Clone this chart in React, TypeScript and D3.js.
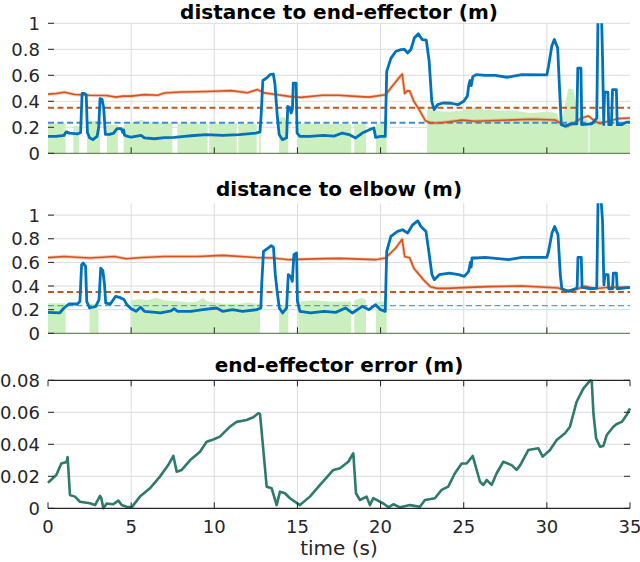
import React from "react";
import * as d3 from "d3";

// ---------- data ----------
const xTicks = [0, 5, 10, 15, 20, 25, 30, 35];
const distTicks = [0, 0.2, 0.4, 0.6, 0.8, 1];
const distTickLabels = ["0", "0.2", "0.4", "0.6", "0.8", "1"];
const errTicks = [0, 0.02, 0.04, 0.06, 0.08];
const errTickLabels = ["0", "0.02", "0.04", "0.06", "0.08"];
const titles = ["distance to end-effector (m)", "distance to elbow (m)", "end-effector error (m)"];
const xLabel = "time (s)";

const humanThreshold = 0.35;
const robotThreshold = 0.235;

// panel 1: distance to end-effector
const eeBlue: [number, number][] = [
  [0, 0.13], [0.5, 0.13], [0.96, 0.138], [1.1, 0.165], [1.3, 0.155], [1.76, 0.15], [1.96, 0.158],
  [2.05, 0.46], [2.2, 0.46], [2.3, 0.45], [2.37, 0.16], [2.5, 0.12], [2.7, 0.105], [2.95, 0.13],
  [3.05, 0.2], [3.13, 0.42], [3.25, 0.415], [3.35, 0.35], [3.45, 0.145], [3.7, 0.145], [3.95, 0.155],
  [4.15, 0.19], [4.4, 0.19], [4.5, 0.16], [4.55, 0.18], [4.6, 0.14], [4.8, 0.13], [5.0, 0.125],
  [5.6, 0.138], [5.8, 0.118], [6.4, 0.112], [7.0, 0.12], [7.6, 0.123], [8.2, 0.13], [8.6, 0.135],
  [9.5, 0.144], [10.5, 0.138], [11.5, 0.144], [12.5, 0.155], [12.75, 0.165], [12.82, 0.3],
  [12.92, 0.56], [13.15, 0.58], [13.35, 0.605], [13.55, 0.61], [13.65, 0.53], [13.78, 0.3],
  [13.9, 0.145], [14.1, 0.105], [14.35, 0.12], [14.42, 0.36], [14.55, 0.35], [14.62, 0.31],
  [14.7, 0.34], [14.75, 0.54], [14.92, 0.54], [14.98, 0.155], [15.15, 0.13], [15.75, 0.13],
  [16.55, 0.138], [17.2, 0.132], [17.7, 0.156], [18.1, 0.144], [18.5, 0.118], [18.9, 0.156],
  [19.3, 0.18], [19.6, 0.195], [19.7, 0.123], [20.0, 0.13], [20.28, 0.13], [20.37, 0.63],
  [20.62, 0.73], [20.92, 0.785], [21.23, 0.797], [21.43, 0.8], [21.63, 0.772], [21.83, 0.8],
  [22.03, 0.887], [22.27, 0.92], [22.5, 0.875], [22.75, 0.87], [22.92, 0.71], [23.08, 0.4],
  [23.22, 0.336], [23.43, 0.374], [23.75, 0.387], [24.25, 0.385], [24.65, 0.374], [25.0, 0.4],
  [25.22, 0.44], [25.3, 0.52], [25.38, 0.56], [25.45, 0.52], [25.55, 0.59], [25.75, 0.605],
  [26.3, 0.6], [26.9, 0.6], [27.6, 0.585], [28.5, 0.605], [30.0, 0.603], [30.1, 0.67],
  [30.3, 0.825], [30.45, 0.875], [30.65, 0.81], [30.77, 0.48], [30.87, 0.22], [31.1, 0.208],
  [31.4, 0.226], [31.8, 0.226], [31.86, 0.655], [32.05, 0.655], [32.1, 0.22], [32.7, 0.226],
  [33.0, 0.27], [33.08, 1.1], [33.28, 1.1], [33.35, 0.73], [33.42, 0.22], [33.47, 0.47],
  [33.67, 0.47], [33.72, 0.22], [33.88, 0.22], [33.95, 0.49], [34.18, 0.49], [34.23, 0.22],
  [34.5, 0.22], [34.8, 0.24], [35, 0.24],
];
const eeOrange: [number, number][] = [
  [0, 0.455], [0.5, 0.46], [1.0, 0.47], [1.6, 0.452], [2.5, 0.446], [3.5, 0.445], [4.1, 0.432],
  [4.5, 0.44], [5.0, 0.44], [5.8, 0.451], [6.6, 0.446], [7.0, 0.464], [8.0, 0.472], [9.0, 0.474],
  [10.0, 0.477], [11.0, 0.482], [12.0, 0.466], [12.6, 0.49], [13.0, 0.465], [13.7, 0.452],
  [14.5, 0.438], [15.2, 0.43], [16.5, 0.446], [17.5, 0.446], [18.5, 0.438], [19.3, 0.432],
  [20.3, 0.451], [20.7, 0.515], [21.1, 0.58], [21.3, 0.61], [21.45, 0.46], [21.6, 0.48],
  [21.75, 0.48], [22.0, 0.4], [22.3, 0.34], [22.7, 0.25], [23.0, 0.233], [23.7, 0.235],
  [24.9, 0.255], [25.7, 0.246], [26.5, 0.25], [29.1, 0.262], [30.5, 0.256], [30.9, 0.226],
  [31.2, 0.205], [31.6, 0.23], [32.1, 0.272], [32.5, 0.287], [32.9, 0.246], [33.2, 0.23],
  [33.7, 0.246], [34.3, 0.267], [35, 0.272],
];
const eeSafe: [number, number][] = [
  [0, 0.23], [1.06, 0.23], [1.06, 0], [1.52, 0], [1.52, 0.21], [1.86, 0.21], [1.86, 0], [2.35, 0],
  [2.35, 0.24], [2.8, 0.25], [3.13, 0.245], [3.13, 0], [3.55, 0], [3.55, 0.22], [4.2, 0.22],
  [4.2, 0], [4.55, 0], [4.55, 0.22], [5.2, 0.24], [5.6, 0.26], [6.0, 0.235], [7.48, 0.235],
  [7.48, 0], [7.78, 0], [7.78, 0.23], [9.6, 0.23], [9.6, 0], [9.7, 0], [9.7, 0.23], [11.35, 0.23],
  [11.35, 0], [11.45, 0], [11.45, 0.23], [12.55, 0.23], [12.55, 0], [12.7, 0], [12.7, 0.22],
  [12.8, 0.22], [12.8, 0], [13.9, 0], [13.9, 0.27], [14.2, 0.28], [14.45, 0.25], [14.45, 0],
  [15.0, 0], [15.0, 0.23], [17.5, 0.225], [18.22, 0.225], [18.22, 0], [18.42, 0], [18.42, 0.225],
  [19.12, 0.225], [19.12, 0], [19.72, 0], [19.72, 0.225], [20.37, 0.225], [20.37, 0], [22.8, 0],
  [22.8, 0.36], [23.1, 0.33], [24.0, 0.32], [25.0, 0.33], [25.4, 0.36], [26.0, 0.34], [27.0, 0.33],
  [28.0, 0.33], [29.0, 0.31], [30.0, 0.32], [30.6, 0.31], [30.85, 0.22], [31.05, 0.35],
  [31.3, 0.5], [31.6, 0.49], [31.8, 0.35], [32.0, 0.27], [32.5, 0.26], [32.5, 0], [32.56, 0],
  [32.56, 0.22], [32.9, 0.24], [33.1, 0.33], [33.3, 0.24], [33.6, 0.22], [35, 0.22],
];

// panel 2: distance to elbow
const elBlue: [number, number][] = [
  [0, 0.177], [0.7, 0.172], [0.96, 0.214], [1.26, 0.248], [1.76, 0.248], [1.92, 0.27], [2.02, 0.58],
  [2.12, 0.594], [2.26, 0.566], [2.33, 0.27], [2.5, 0.214], [2.87, 0.228], [3.07, 0.285],
  [3.17, 0.552], [3.3, 0.53], [3.4, 0.41], [3.47, 0.256], [3.75, 0.248], [4.07, 0.313],
  [4.3, 0.304], [4.57, 0.285], [4.75, 0.242], [5.0, 0.208], [5.3, 0.186], [5.57, 0.22],
  [5.8, 0.186], [6.77, 0.172], [7.4, 0.19], [7.58, 0.208], [7.8, 0.186], [8.6, 0.186], [9.3, 0.2],
  [10.14, 0.214], [10.5, 0.186], [11.1, 0.2], [11.7, 0.186], [12.55, 0.2], [12.8, 0.214],
  [12.85, 0.41], [12.96, 0.693], [13.23, 0.721], [13.43, 0.741], [13.56, 0.727], [13.67, 0.496],
  [13.78, 0.355], [13.91, 0.214], [14.11, 0.172], [14.35, 0.214], [14.45, 0.496], [14.6, 0.48],
  [14.69, 0.44], [14.79, 0.665], [14.95, 0.68], [15.0, 0.27], [15.15, 0.186], [15.8, 0.172],
  [16.6, 0.186], [17.3, 0.177], [17.9, 0.214], [18.3, 0.172], [18.9, 0.228], [19.3, 0.2],
  [19.7, 0.242], [20.0, 0.2], [20.28, 0.186], [20.37, 0.693], [20.62, 0.82], [21.02, 0.862],
  [21.32, 0.876], [21.63, 0.848], [21.93, 0.918], [22.23, 0.952], [22.43, 0.904], [22.73, 0.862],
  [22.9, 0.693], [23.09, 0.496], [23.23, 0.454], [23.53, 0.496], [24.14, 0.51], [24.7, 0.496],
  [25.04, 0.482], [25.3, 0.524], [25.4, 0.6], [25.45, 0.56], [25.5, 0.637], [25.74, 0.637],
  [26.3, 0.642], [27.7, 0.623], [28.5, 0.642], [30.0, 0.642], [30.1, 0.693], [30.31, 0.848],
  [30.47, 0.904], [30.67, 0.834], [30.81, 0.496], [30.9, 0.377], [31.3, 0.355], [31.82, 0.383],
  [31.87, 0.642], [32.07, 0.642], [32.12, 0.389], [32.6, 0.377], [33.0, 0.383], [33.08, 1.15],
  [33.25, 1.15], [33.35, 0.946], [33.43, 0.411], [33.5, 0.496], [33.68, 0.496], [33.72, 0.377],
  [33.95, 0.377], [34.0, 0.51], [34.18, 0.51], [34.23, 0.377], [35, 0.389],
];
const elOrange: [number, number][] = [
  [0, 0.64], [1, 0.65], [2.5, 0.637], [4.0, 0.65], [4.7, 0.631], [5.7, 0.642], [7.0, 0.65],
  [9.0, 0.65], [10.5, 0.659], [12.5, 0.642], [13.5, 0.637], [14.5, 0.623], [16.0, 0.63],
  [17.5, 0.634], [19.7, 0.623], [20.3, 0.637], [20.9, 0.72], [21.3, 0.795], [21.45, 0.65],
  [21.75, 0.64], [22.0, 0.55], [22.6, 0.45], [23.0, 0.394], [23.4, 0.38], [24.0, 0.38],
  [25.3, 0.389], [26.5, 0.395], [28.5, 0.4], [30.7, 0.383], [31.1, 0.36], [31.6, 0.365],
  [32.3, 0.397], [32.9, 0.377], [33.7, 0.389], [35, 0.389],
];
const elSafe: [number, number][] = [
  [0, 0.255], [1.06, 0.255], [1.06, 0], [2.5, 0], [2.5, 0.25], [3.03, 0.25], [3.03, 0], [4.97, 0],
  [4.97, 0.28], [5.5, 0.29], [6.0, 0.28], [6.5, 0.3], [7.0, 0.28], [8.0, 0.27], [8.5, 0.26],
  [9.0, 0.27], [9.3, 0.3], [9.6, 0.27], [10.5, 0.25], [11.5, 0.25], [12.0, 0.26], [12.5, 0.25],
  [12.75, 0.25], [12.75, 0], [13.9, 0], [13.9, 0.24], [14.45, 0.24], [14.45, 0], [15.05, 0],
  [15.05, 0.27], [16.0, 0.28], [17.0, 0.27], [18.22, 0.27], [18.22, 0], [18.42, 0], [18.42, 0.28],
  [18.9, 0.3], [19.12, 0.28], [19.12, 0], [19.72, 0], [19.72, 0.27], [20.37, 0.27], [20.37, 0],
  [35, 0],
];

// panel 3: end-effector error
const eeError: [number, number][] = [
  [0, 0.016], [0.5, 0.0208], [0.8, 0.028], [1.12, 0.029], [1.18, 0.032], [1.32, 0.0083],
  [1.62, 0.0073], [1.92, 0.0041], [2.52, 0.0031], [2.83, 0.002], [3.13, 0.0077], [3.2, 0.0066],
  [3.33, 0.0], [3.53, 0.003], [3.93, 0.0025], [4.23, 0.0048], [4.43, 0.002], [4.73, 0.001],
  [5.03, 0.0006], [5.53, 0.0073], [6.13, 0.0125], [6.73, 0.0198], [7.23, 0.027], [7.54, 0.0327],
  [7.74, 0.0229], [8.04, 0.024], [8.54, 0.03], [9.14, 0.0354], [9.54, 0.0416], [9.94, 0.043],
  [10.34, 0.0448], [10.94, 0.051], [11.34, 0.054], [11.94, 0.0552], [12.35, 0.0569],
  [12.65, 0.0594], [12.75, 0.059], [12.95, 0.0364], [13.15, 0.0135], [13.45, 0.0125],
  [13.75, 0.002], [13.95, 0.0104], [14.25, 0.0094], [14.55, 0.0063], [15.15, 0.002],
  [15.75, 0.0073], [16.36, 0.0146], [17.16, 0.024], [17.56, 0.025], [18.06, 0.0291],
  [18.36, 0.0344], [18.52, 0.0094], [18.76, 0.0052], [19.16, 0.0073], [19.36, 0.002],
  [19.56, 0.0063], [20.17, 0.003], [20.47, 0.0006], [20.77, 0.0025], [21.17, 0.0006],
  [21.77, 0.002], [22.37, 0.001], [22.67, 0.0052], [23.27, 0.0063], [23.67, 0.0115],
  [24.07, 0.0135], [24.47, 0.0219], [24.88, 0.028], [25.18, 0.028], [25.54, 0.0327],
  [25.98, 0.0166], [26.18, 0.0146], [26.38, 0.0177], [26.68, 0.0146], [26.98, 0.0219],
  [27.38, 0.0291], [27.88, 0.027], [28.18, 0.024], [28.4, 0.027], [28.88, 0.0364], [29.49, 0.0375],
  [29.75, 0.0323], [30.19, 0.0364], [30.59, 0.0427], [31.09, 0.0469], [31.39, 0.051],
  [31.79, 0.0666], [32.2, 0.075], [32.6, 0.0798], [32.7, 0.0795], [32.8, 0.0594], [32.96, 0.0438],
  [33.2, 0.0385], [33.4, 0.039], [33.6, 0.0458], [34.0, 0.051], [34.2, 0.0527], [34.5, 0.054],
  [34.8, 0.0583], [35, 0.0625],
];

// ---------- layout ----------
const X0 = 48, X1 = 630;
const FONT = "DejaVu Sans";
const x = d3.scaleLinear().domain([0, 35]).range([X0, X1]);
const y1 = d3.scaleLinear().domain([0, 1]).range([153.3, 23.3]);
const y2 = d3.scaleLinear().domain([0, 1.1]).range([333.3, 203.3]);
const y3 = d3.scaleLinear().domain([0, 0.08]).range([508.3, 380.3]);

const BLUE = "#0072BD";
const ORANGE = "#D95319";
const GRID = "#dcdcdc";
const AXIS = "#262626";

function lineOf(y: d3.ScaleLinear<number, number>) {
  return d3.line<[number, number]>().x((d) => x(d[0])).y((d) => y(d[1]));
}
function areaOf(y: d3.ScaleLinear<number, number>) {
  return d3.area<[number, number]>().x((d) => x(d[0])).y0(y(0)).y1((d) => y(d[1]));
}

function DistPanel({ y, id, blue, orange, safe, title, titleY, thinRobot }: any) {
  const [r0, r1] = y.range();
  const line = lineOf(y);
  const area = areaOf(y);
  return (
    <g>
      <defs>
        <clipPath id={id}>
          <rect x={X0} y={r1} width={X1 - X0} height={r0 - r1} />
        </clipPath>
      </defs>
      {distTicks.filter((v) => v > 0).map((v) => (
        <line key={"h" + v} x1={X0} x2={X1} y1={y(v)} y2={y(v)} stroke={GRID} strokeWidth={1} />
      ))}
      {xTicks.filter((t) => t > 0 && t < 35).map((t) => (
        <line key={"v" + t} x1={x(t)} x2={x(t)} y1={r1} y2={r0} stroke={GRID} strokeWidth={1} />
      ))}
      <g clipPath={`url(#${id})`}>
        <path d={area(safe) || ""} fill="#ccefbf" stroke="none" />
        <line x1={X0} x2={X1} y1={y(humanThreshold)} y2={y(humanThreshold)} stroke="#c9541c" strokeWidth={2} strokeDasharray="6,3.5" />
        <line x1={X0} x2={X1} y1={y(robotThreshold)} y2={y(robotThreshold)} stroke={thinRobot ? "#4da0e0" : "#3a8dd6"} strokeWidth={thinRobot ? 1.2 : 2} strokeDasharray="6,3.5" />
        <path d={line(orange) || ""} fill="none" stroke={ORANGE} strokeOpacity={0.3} strokeWidth={3.4} strokeLinejoin="round" />
        <path d={line(orange) || ""} fill="none" stroke={ORANGE} strokeWidth={1.6} strokeLinejoin="round" />
        <path d={line(blue) || ""} fill="none" stroke={BLUE} strokeWidth={2.8} strokeLinejoin="round" />
      </g>
      <line x1={X0} x2={X1} y1={r0} y2={r0} stroke="#6c8c60" strokeWidth={1.3} />
      {distTicks.map((v, i) => (
        <g key={"yt" + v}>
          <line x1={X0} x2={X0 + 6} y1={y(v)} y2={y(v)} stroke={AXIS} strokeWidth={1} />
          <text x={40} y={y(v)} dy="0.36em" textAnchor="end" fontSize={18} fill={AXIS} fontFamily={FONT}>{distTickLabels[i]}</text>
        </g>
      ))}
      {xTicks.filter((t) => t > 0 && t < 35).map((t) => (
        <line key={"xt" + t} x1={x(t)} x2={x(t)} y1={r0} y2={r0 - 6} stroke={AXIS} strokeWidth={1} />
      ))}
      <text x={339} y={titleY} textAnchor="middle" fontSize={20} fontWeight="bold" fill="#000" fontFamily={FONT}>{title}</text>
    </g>
  );
}

function ErrorPanel() {
  const [r0, r1] = y3.range();
  const line = lineOf(y3);
  return (
    <g>
      {errTicks.filter((v) => v > 0 && v < 0.08).map((v) => (
        <line key={"h" + v} x1={X0} x2={X1} y1={y3(v)} y2={y3(v)} stroke={GRID} strokeWidth={1} />
      ))}
      {xTicks.filter((t) => t > 0 && t < 35).map((t) => (
        <line key={"v" + t} x1={x(t)} x2={x(t)} y1={r1} y2={r0} stroke={GRID} strokeWidth={1} />
      ))}
      <path d={line(eeError) || ""} fill="none" stroke="#2e7b6b" strokeWidth={2.6} strokeLinejoin="round" />
      <line x1={X0} x2={X1} y1={r0} y2={r0} stroke={AXIS} strokeWidth={1.2} />
      <line x1={X0} x2={X1} y1={r1} y2={r1} stroke={AXIS} strokeWidth={1.2} />
      {errTicks.map((v, i) => (
        <g key={"yt" + v}>
          <line x1={X0} x2={X0 + 6} y1={y3(v)} y2={y3(v)} stroke={AXIS} strokeWidth={1} />
          <line x1={X1 - 6} x2={X1} y1={y3(v)} y2={y3(v)} stroke={AXIS} strokeWidth={1} />
          <text x={40} y={y3(v)} dy="0.36em" textAnchor="end" fontSize={18} fill={AXIS} fontFamily={FONT}>{errTickLabels[i]}</text>
        </g>
      ))}
      {xTicks.map((t) => (
        <g key={"xt" + t}>
          <line x1={x(t)} x2={x(t)} y1={r0} y2={r0 - 6} stroke={AXIS} strokeWidth={1} />
          <line x1={x(t)} x2={x(t)} y1={r1} y2={r1 + 6} stroke={AXIS} strokeWidth={1} />
          <text x={x(t)} y={533} textAnchor="middle" fontSize={18} fill={AXIS} fontFamily={FONT}>{String(t)}</text>
        </g>
      ))}
      <text x={339} y={555} textAnchor="middle" fontSize={20} fill={AXIS} fontFamily={FONT}>{xLabel}</text>
      <text x={339} y={372} textAnchor="middle" fontSize={20} fontWeight="bold" fill="#000" fontFamily={FONT}>{titles[2]}</text>
    </g>
  );
}

export default function App() {
  return (
    <svg width={640} height={562} viewBox="0 0 640 562" style={{ position: "absolute", left: 0, top: 0, display: "block", background: "#fff" }}>
      <rect width={640} height={562} fill="#fff" />
      <DistPanel y={y1} id="clip1" blue={eeBlue} orange={eeOrange} safe={eeSafe} title={titles[0]} titleY={19} thinRobot={false} />
      <DistPanel y={y2} id="clip2" blue={elBlue} orange={elOrange} safe={elSafe} title={titles[1]} titleY={196} thinRobot={true} />
      <ErrorPanel />
    </svg>
  );
}
